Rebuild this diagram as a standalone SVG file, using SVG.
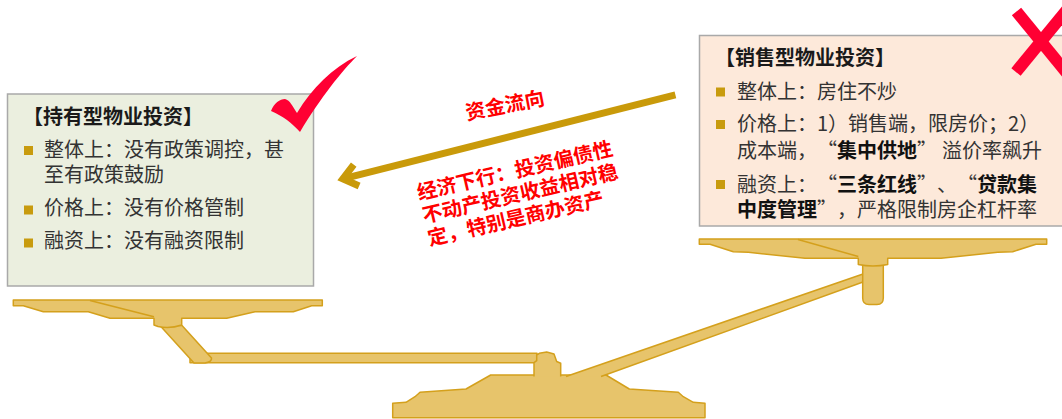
<svg xmlns="http://www.w3.org/2000/svg" width="1062" height="419" viewBox="0 0 1062 419">
  <style>
    .box-hold { fill: #ebefdf; stroke: #a9a9a9; stroke-width: 1.5; }
    .box-sale { fill: #fde9da; stroke: #a9a9a9; stroke-width: 1.5; }
    .title { font-family: "Noto Sans CJK SC", "Microsoft YaHei", sans-serif; font-size: 20px; font-weight: bold; fill: #1a1a1a; }
    .body { font-family: "Noto Sans CJK SC", "Microsoft YaHei", sans-serif; font-size: 20px; fill: #333333; }
    .body .b { font-weight: bold; fill: #111111; }
    .bullet { fill: #c89b0e; }
    .red { font-family: "Noto Sans CJK SC", "Microsoft YaHei", sans-serif; font-size: 20px; font-weight: bold; fill: #ff0000; }
    .metal { fill: #e7c46b; stroke: #d4a01c; stroke-width: 1.5; stroke-linejoin: round; }
    .metal-line { fill: none; stroke: #d4a01c; stroke-width: 1.5; }
    .flow { stroke: #c99a0a; stroke-width: 7; fill: none; }
    .mark { fill: #ff0033; }
  </style>

  <!-- balance scale -->
  <g id="scale">
    <!-- base -->
    <path class="metal" d="M490.7,375 L466,389 L420,392.3 L415,396.7 L406,402.3 L392.7,403.3 L392.7,417.7 L705,417.7 L705,403.3 L693.3,402.3 L683.3,396.7 L678.3,392.3 L629.3,389 L606,375 Z"/>
    <!-- lower beam -->
    <rect class="metal" x="190" y="353.3" width="347" height="9.5"/>
    <!-- fulcrum post -->
    <path class="metal" d="M534,376.5 L534,362.7 L536.7,360.7 L536.7,355 L539.3,353.3 L546.7,352 L554,354 L556.7,361.5 L560.7,363.3 L560.7,376.5"/>
    <!-- left diagonal link -->
    <path class="metal" d="M159.5,325 L194,363 L205,363 Q212,362 211.5,358 L182,325.5 Z"/>
    <!-- left pan -->
    <path class="metal" d="M13.3,300 L322.3,300 L322.3,305.7 L311.7,305.7 L293.3,311.7 L255,311.7 L226.7,318.3 L181.7,318.3 L181.7,325 Q170,329 158,326.5 L154,325 L154,318.3 L110,318.3 L88.3,311.7 L43.3,311.7 L23.3,305.7 L13.3,305.7 Z"/>
    <line class="metal-line" x1="90" y1="300.5" x2="154" y2="316.7"/>
    <!-- rising arm to right pan -->
    <path class="metal" d="M566,376.5 L863,274 L863,282 L601,376.5"/>
    <!-- right hanging post -->
    <path class="metal" d="M862.7,262 L862.7,298 Q862.7,304.5 869,304.5 L877,304.5 Q883.3,304.5 883.3,298 L883.3,262"/>
    <!-- right pan -->
    <path class="metal" d="M699.3,239 L1046.7,239 L1046.7,244.3 L1036,244.3 L1012.7,251.7 L997.7,252.3 L941,258.3 L887.7,258.3 L887.7,264.5 Q873,267.5 858.3,264.5 L858.3,258.3 L805,258.3 L748.3,252.3 L733.3,251.7 L710,244.3 L699.3,244.3 Z"/>
    <line class="metal-line" x1="798" y1="239.5" x2="858.3" y2="256.5"/>
  </g>

  <!-- holding-type property box -->
  <g id="node-hold">
    <rect class="box-hold" x="7.5" y="94" width="306" height="192"/>
    <text class="title" x="23" y="124">【持有型物业投资】</text>
    <rect class="bullet" x="24" y="146" width="9" height="9"/>
    <text class="body" x="44" y="156.5">整体上：没有政策调控，甚</text>
    <text class="body" x="44" y="182">至有政策鼓励</text>
    <rect class="bullet" x="24" y="205.5" width="9" height="9"/>
    <text class="body" x="44" y="214.5">价格上：没有价格管制</text>
    <rect class="bullet" x="24" y="238.5" width="9" height="9"/>
    <text class="body" x="44" y="247.5">融资上：没有融资限制</text>
  </g>

  <!-- sales-type property box; every glyph sits on a 20px full-width cell -->
  <g id="node-sale">
    <rect class="box-sale" x="699.5" y="35.5" width="372" height="190.5"/>
    <text class="title" x="715" y="65">【销售型物业投资】</text>
    <rect class="bullet" x="716" y="87.5" width="9" height="9"/>
    <text class="body" x="737" y="98.5">整体上：房住不炒</text>
    <rect class="bullet" x="716" y="120" width="9" height="9"/>
    <text class="body" x="737" y="131">价格上：1）销售端，限房价；2）</text>
    <text class="body" y="157.5"><tspan x="737">成本端，</tspan><tspan x="817">“</tspan><tspan class="b" x="837">集中供地</tspan><tspan x="917">”</tspan><tspan x="942">溢价率飙升</tspan></text>
    <rect class="bullet" x="716" y="180" width="9" height="9"/>
    <text class="body" y="191.5"><tspan x="737">融资上：</tspan><tspan x="817">“</tspan><tspan class="b" x="837">三条红线</tspan><tspan x="917">”</tspan><tspan x="937">、</tspan><tspan x="957">“</tspan><tspan class="b" x="977">贷款集</tspan></text>
    <text class="body" y="216.5"><tspan class="b" x="737">中度管理</tspan><tspan x="817">”</tspan><tspan x="837">，</tspan><tspan x="857">严格限制房企杠杆率</tspan></text>
  </g>

  <!-- approval / rejection marks -->
  <g id="mark-check">
    <path class="mark" d="M271,111 C274,103 280,99 285,99 C290,100 293,107 297,113 C312,88 332,68 357,56 C342,71 321,97 300,132 C292,123 283,116 271,111 Z"/>
  </g>
  <g id="mark-cross">
    <line x1="1016.5" y1="11.5" x2="1075" y2="83" stroke="#ff0033" stroke-width="12"/>
    <line x1="1016" y1="72" x2="1075" y2="0" stroke="#ff0033" stroke-width="12"/>
  </g>

  <!-- capital flow connector -->
  <g id="connectors">
    <g transform="translate(338,180) rotate(-14.16)">
      <line class="flow" x1="8" y1="0" x2="348" y2="0"/>
      <polyline class="flow" points="19,-11 5,0 19,11" stroke-linejoin="miter" stroke-miterlimit="10"/>
    </g>
    <text class="red" transform="translate(467,120) rotate(-11)">资金流向</text>
    <g transform="translate(419,200) rotate(-13)">
      <text class="red" x="0" y="0">经济下行：投资偏债性</text>
      <text class="red" x="0" y="23.5">不动产投资收益相对稳</text>
      <text class="red" x="0" y="47">定，特别是商办资产</text>
    </g>
  </g>
</svg>
